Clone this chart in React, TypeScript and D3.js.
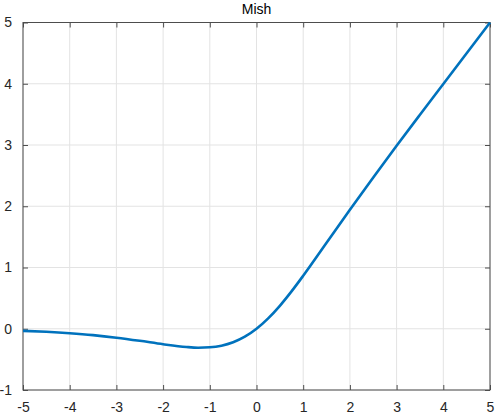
import React, { useEffect, useRef } from "react";
import * as d3 from "d3";

// values
const xValues = [-5, -4.5, -4, -3.5, -3, -2.5, -2, -1.5, -1.25, -1, -0.75, -0.5, -0.25, 0, 0.25, 0.5, 0.75, 1, 1.5, 2, 2.5, 3, 3.5, 4, 4.5, 5];
const yValues = [-0.034, -0.05, -0.073, -0.104, -0.146, -0.197, -0.253, -0.298, -0.309, -0.303, -0.277, -0.221, -0.13, 0, 0.17, 0.375, 0.61, 0.865, 1.404, 1.944, 2.471, 2.987, 3.494, 3.997, 4.499, 5.0];
const xTicks = [-5, -4, -3, -2, -1, 0, 1, 2, 3, 4, 5];
const yTicks = [-1, 0, 1, 2, 3, 4, 5];
const title = "Mish";

const App = () => {
  const svgRef = useRef<SVGSVGElement>(null);

  useEffect(() => {
    const width = 498,
      height = 416;
    const margin = { top: 22.5, right: 8, bottom: 26, left: 23 };
    const w = width - margin.left - margin.right,
      h = height - margin.top - margin.bottom;

    const root = d3.select(svgRef.current).attr("width", width).attr("height", height);
    root.selectAll("*").remove();
    root.append("rect").attr("width", width).attr("height", height).attr("fill", "#fff");

    const svg = root.append("g").attr("transform", `translate(${margin.left},${margin.top})`);

    const x = d3.scaleLinear().domain([-5, 5]).range([0, w]);
    const y = d3.scaleLinear().domain([-1, 5]).range([h, 0]);

    // grid
    svg
      .selectAll(".gx")
      .data(xTicks)
      .enter()
      .append("line")
      .attr("x1", (d) => x(d))
      .attr("x2", (d) => x(d))
      .attr("y1", 0)
      .attr("y2", h)
      .attr("stroke", "#e3e3e3")
      .attr("stroke-width", 1);
    svg
      .selectAll(".gy")
      .data(yTicks)
      .enter()
      .append("line")
      .attr("x1", 0)
      .attr("x2", w)
      .attr("y1", (d) => y(d))
      .attr("y2", (d) => y(d))
      .attr("stroke", "#e3e3e3")
      .attr("stroke-width", 1);

    const axisColor = "#4d4d4d";
    const font = "Liberation Sans, Arial, sans-serif";
    const fmt = (d) => String(d);

    const styleAxis = (g) => {
      g.select(".domain").remove();
      g.selectAll("line").attr("stroke", axisColor);
      g.selectAll("text").attr("fill", "#262626").attr("font-size", 14).attr("font-family", font);
    };

    svg
      .append("g")
      .attr("transform", `translate(0,${h})`)
      .call(d3.axisBottom(x).tickValues(xTicks).tickSizeInner(-5).tickSizeOuter(0).tickPadding(12).tickFormat(fmt))
      .call(styleAxis);
    svg
      .append("g")
      .call(d3.axisTop(x).tickValues(xTicks).tickSizeInner(-5).tickSizeOuter(0).tickFormat(() => ""))
      .call(styleAxis);
    svg
      .append("g")
      .call(d3.axisLeft(y).tickValues(yTicks).tickSizeInner(-5).tickSizeOuter(0).tickPadding(11).tickFormat(fmt))
      .call(styleAxis);
    svg
      .append("g")
      .attr("transform", `translate(${w},0)`)
      .call(d3.axisRight(y).tickValues(yTicks).tickSizeInner(-5).tickSizeOuter(0).tickFormat(() => ""))
      .call(styleAxis);

    // box
    svg
      .append("rect")
      .attr("width", w)
      .attr("height", h)
      .attr("fill", "none")
      .attr("stroke", axisColor)
      .attr("stroke-width", 1);

    const line = d3
      .line<number>()
      .x((d, i) => x(xValues[i]))
      .y((d) => y(d))
      .curve(d3.curveMonotoneX);

    svg
      .append("path")
      .datum(yValues)
      .attr("d", line)
      .attr("fill", "none")
      .attr("stroke", "#0072BD")
      .attr("stroke-width", 2.6);

    root
      .append("text")
      .attr("x", margin.left + w / 2)
      .attr("y", 14)
      .attr("text-anchor", "middle")
      .attr("font-size", 14)
      .attr("font-family", font)
      .attr("fill", "#000")
      .text(title);
  }, []);

  return <svg ref={svgRef} style={{ position: "absolute", left: 0, top: 0 }}></svg>;
};

export default App;
